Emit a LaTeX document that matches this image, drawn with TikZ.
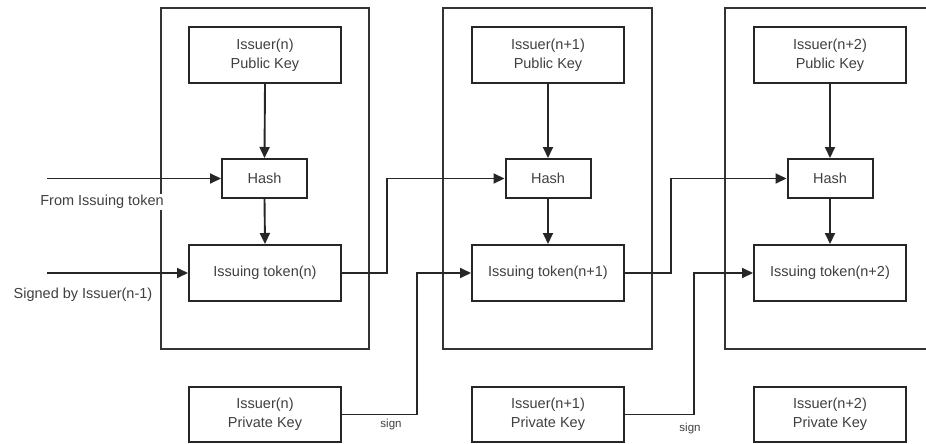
\documentclass[tikz,border=0pt]{standalone}
\usepackage{fontspec}
\setmainfont{Liberation Sans}
\usetikzlibrary{arrows.meta}
\begin{document}
\begin{tikzpicture}[x=1pt,y=-1pt,
  line width=2pt,
  every node/.style={text=black!75, font=\fontsize{14.5}{19}\selectfont},
  outer/.style={draw=black!80, line width=2pt},
  keybox/.style={draw=black!85, line width=2pt, minimum width=152pt, minimum height=56pt, align=center, inner sep=0pt},
  hashbox/.style={draw=black!85, line width=2pt, minimum width=85pt, minimum height=39pt, inner sep=0pt},
  conn/.style={draw=black!85, line width=1.9pt},
  arr/.style={conn, -{Triangle[length=11pt,width=10pt]}},
  lbl/.style={inner sep=1pt},
  small/.style={font=\fontsize{11.5}{13}\selectfont, inner sep=1pt}]
\clip (0,0) rectangle (926,444);
\fill[white] (0,0) rectangle (926,444);
% outer boxes
\draw[outer] (161,8) rectangle (369,349);
\draw[outer] (443,8) rectangle (652,349);
\draw[outer] (725,8) rectangle (945,349);
% labels at left
\node[lbl, fill=white] (lfrom) at (102,202) {From Issuing token};
\node[lbl] (lsigned) at (83,295) {Signed by Issuer(n-1)};
% public keys
\node[keybox] (pk1) at (265,55) {Issuer(n)\\Public Key};
\node[keybox] (pk2) at (548,55) {Issuer(n+1)\\Public Key};
\node[keybox] (pk3) at (830,55) {Issuer(n+2)\\Public Key};
% hashes
\node[hashbox] (h1) at (264.5,178.5) {Hash};
\node[hashbox] (h2) at (548,178.5) {Hash};
\node[hashbox] (h3) at (830,178.5) {Hash};
% tokens
\node[keybox] (t1) at (265,273) {Issuing token(n)};
\node[keybox] (t2) at (548,273) {Issuing token(n+1)};
\node[keybox] (t3) at (830,273) {Issuing token(n+2)};
% private keys
\node[keybox, minimum height=55pt] (pr1) at (265,414.5) {Issuer(n)\\Private Key};
\node[keybox, minimum height=55pt] (pr2) at (548,414.5) {Issuer(n+1)\\Private Key};
\node[keybox, minimum height=55pt] (pr3) at (830,414.5) {Issuer(n+2)\\Private Key};
% inputs
\coordinate (in1) at (47,178.5);
\coordinate (in2) at (47,273);
\draw[arr] (in1) -- (h1.west);
\draw[arr] (in2) -- (t1.west);
% vertical chains
\foreach \i in {1,2,3} {
  \draw[arr] (pk\i.south) -- (h\i.north);
  \draw[arr] (h\i.south) -- (t\i.north);
}
% token to next hash
\draw[arr] (t1.east) -- ++(45,0) |- (h2.west);
\draw[arr] (t2.east) -- ++(46,0) |- (h3.west);
% private key sign
\draw[arr] (pr1.east) -- ++(75,0) |- (t2.west);
\draw[arr] (pr2.east) -- ++(69,0) |- (t3.west);
\node[small] (s1) at (391,425) {sign};
\node[small] (s2) at (690,429) {sign};
\end{tikzpicture}
\end{document}
